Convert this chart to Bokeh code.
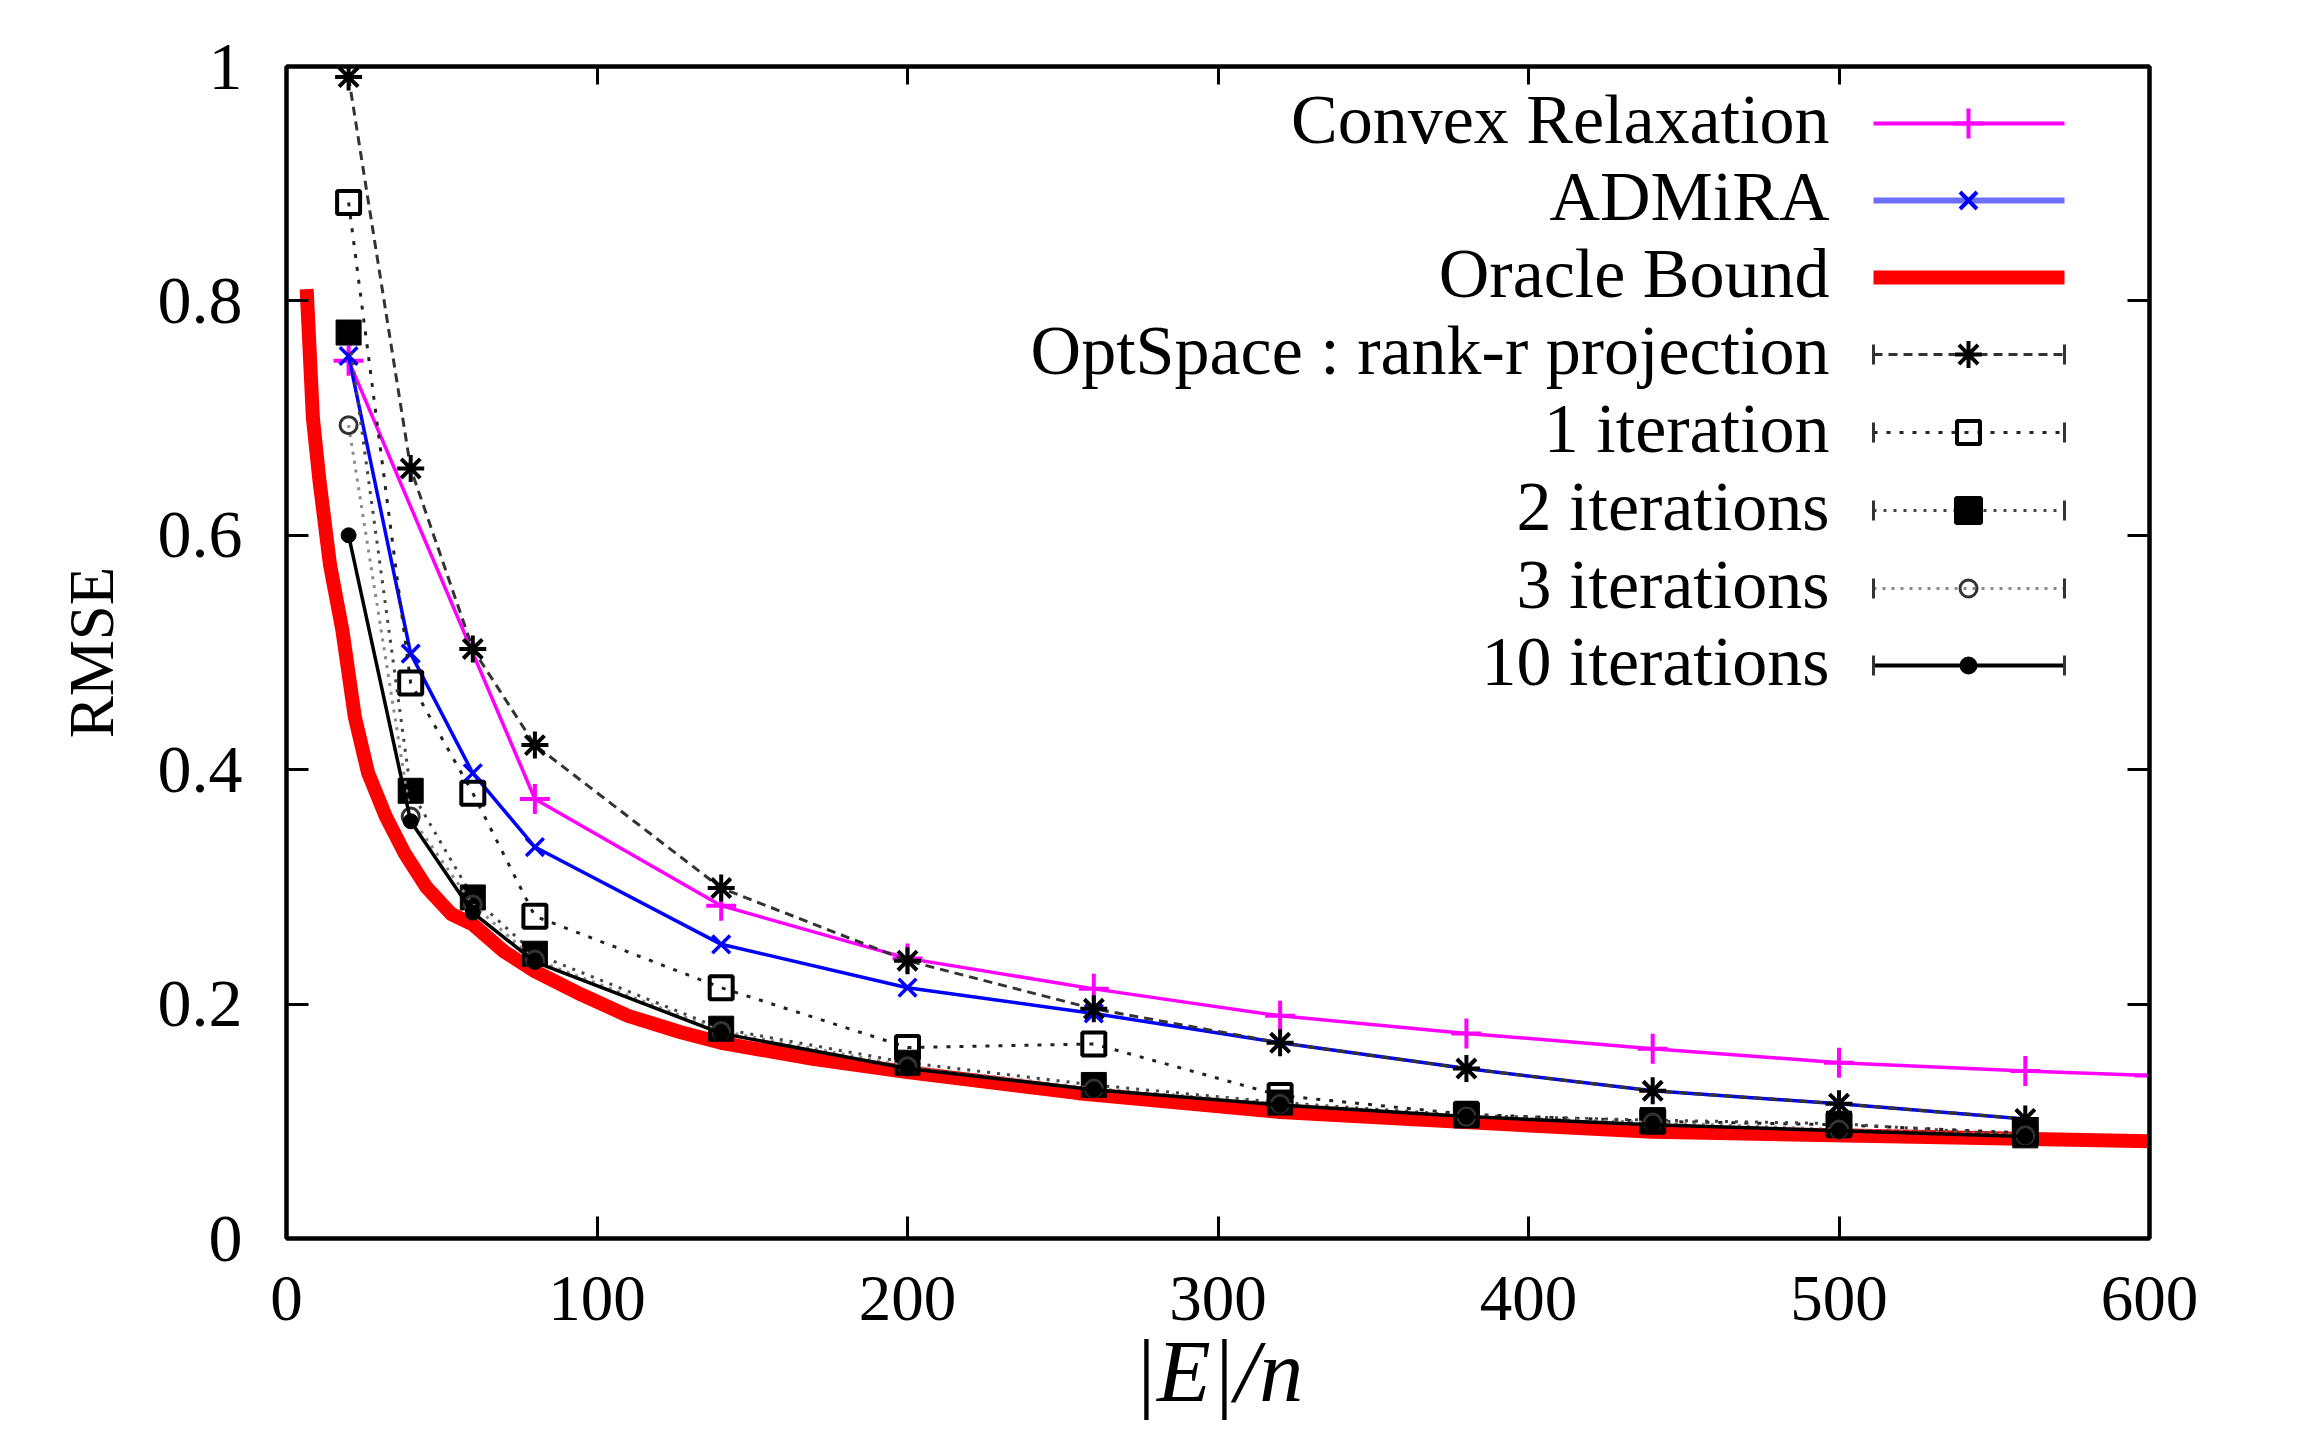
from bokeh.plotting import figure
from bokeh.models import Range1d, LinearAxis, FixedTicker
from bokeh.embed import file_html
from bokeh.resources import INLINE
from bokeh.core.properties import value

# ---------------- data ----------------
x_iter = [20, 40, 60, 80, 140, 200, 260, 320, 380, 440, 500, 560]
convex_x = [20, 80, 140, 200, 260, 320, 380, 440, 500, 560, 600]
convex_y = [0.749, 0.375, 0.284, 0.239, 0.213, 0.190, 0.175, 0.162, 0.150, 0.143, 0.139]
admira_y = [0.753, 0.499, 0.397, 0.334, 0.251, 0.214, 0.192, 0.167, 0.145, 0.126, 0.115, 0.102]
rank_r_y = [0.991, 0.657, 0.503, 0.421, 0.299, 0.237, 0.196, 0.167, 0.145, 0.126, 0.115, 0.102]
iter1_y = [0.884, 0.474, 0.380, 0.275, 0.214, 0.163, 0.166, 0.122, 0.106, 0.100, 0.097, 0.090]
iter2_y = [0.773, 0.382, 0.291, 0.243, 0.179, 0.150, 0.131, 0.116, 0.105, 0.101, 0.098, 0.088]
iter3_y = [0.694, 0.360, 0.285, 0.238, 0.177, 0.147, 0.128, 0.115, 0.104, 0.099, 0.093, 0.088]
iter10_y = [0.600, 0.356, 0.278, 0.236, 0.175, 0.145, 0.127, 0.114, 0.104, 0.097, 0.092, 0.087]
oracle_x = [6.5, 8.5, 10.6, 14, 18, 22, 26.3, 32, 38, 45, 53, 60, 70, 80, 95, 110, 127, 140,
            170, 200, 255, 320, 375, 440, 520, 600]
oracle_y = [0.81, 0.70, 0.647, 0.575, 0.519, 0.445, 0.397, 0.36, 0.329, 0.30, 0.277, 0.268,
            0.245, 0.228, 0.208, 0.19, 0.176, 0.167, 0.153, 0.142, 0.124, 0.108, 0.100,
            0.091, 0.087, 0.083]

x_ticks = [0, 100, 200, 300, 400, 500, 600]
y_ticks = [0, 0.2, 0.4, 0.6, 0.8, 1.0]
y_tick_labels = ["0", "0.2", "0.4", "0.6", "0.8", "1"]

legend_labels = ["Convex Relaxation", "ADMiRA", "Oracle Bound",
                 "OptSpace : rank-r projection", "1 iteration", "2 iterations",
                 "3 iterations", "10 iterations"]
x_label = "|E|/n"
y_label = "RMSE"

# ---------------- layout constants (page pixels) ----------------
W, H = 2295, 1449
FL, FR, FT, FB = 286, 2149, 66, 1238  # frame edges on the page
XMAX, YMAX = 600.0, 1.0


def dx(px):
    return (px - FL) / (FR - FL) * XMAX


def dy(py):
    return (FB - py) / (FB - FT) * YMAX


SERIF = value("Liberation Serif")

p = figure(width=W, height=H, x_range=Range1d(0, XMAX), y_range=Range1d(0, YMAX),
           output_backend="svg", toolbar_location=None,
           min_border_left=FL, min_border_right=W - FR,
           min_border_top=FT, min_border_bottom=H - FB)
p.grid.visible = False
p.outline_line_color = "black"
p.outline_line_width = 4
p.background_fill_color = "white"
p.border_fill_color = "white"

for ax in (p.xaxis[0], p.yaxis[0]):
    ax.major_tick_in = 22
    ax.major_tick_out = 0
    ax.major_tick_line_width = 3
    ax.minor_tick_line_color = None
    ax.axis_line_width = 4
    ax.major_label_text_font = "Liberation Serif"
    ax.axis_label_text_font = "Liberation Serif"
    ax.major_label_text_color = "black"
    ax.axis_label_text_color = "black"

p.xaxis.ticker = FixedTicker(ticks=x_ticks)
p.yaxis.ticker = FixedTicker(ticks=y_ticks)
p.yaxis.major_label_overrides = {t: l for t, l in zip(y_ticks, y_tick_labels)}
p.xaxis.major_label_text_font_size = "65px"
p.yaxis.major_label_text_font_size = "68px"
p.xaxis.major_label_standoff = 38
p.yaxis.major_label_standoff = 44
p.xaxis.axis_label = x_label
p.xaxis.axis_label_text_font_size = "88px"
p.xaxis.axis_label_text_font_style = "italic"
p.xaxis.axis_label_standoff = 0
p.yaxis.axis_label = y_label
p.yaxis.axis_label_text_font_size = "63px"
p.yaxis.axis_label_text_font_style = "normal"
p.yaxis.axis_label_standoff = 28

# mirrored ticks on top and right (no labels)
top = LinearAxis(ticker=FixedTicker(ticks=x_ticks), major_label_text_color=None,
                 major_label_text_font_size="10px", major_label_standoff=0,
                 major_tick_in=18, major_tick_out=0, major_tick_line_width=3,
                 minor_tick_line_color=None, axis_line_width=4)
p.add_layout(top, "above")
right = LinearAxis(ticker=FixedTicker(ticks=y_ticks), major_label_text_color=None,
                   major_label_text_font_size="10px", major_label_standoff=0,
                   major_tick_in=22, major_tick_out=0, major_tick_line_width=3,
                   minor_tick_line_color=None, axis_line_width=4)
p.add_layout(right, "right")

# ---------------- series ----------------
MAG, BLUE, RED = "#ff00ff", "#0000ff", "#ff0000"

p.line(convex_x, convex_y, line_color=MAG, line_width=3.5)
p.scatter(convex_x, convex_y, marker="cross", size=30, line_color=MAG, line_width=4)

p.line(x_iter, admira_y, line_color=BLUE, line_width=3.5)
p.scatter(x_iter, admira_y, marker="x", size=25, line_color=BLUE, line_width=3.5)

p.line(oracle_x, oracle_y, line_color=RED, line_width=14, line_join="round")

p.line(x_iter, rank_r_y, line_color="#333333", line_width=3, line_dash="9 6")
p.scatter(x_iter, rank_r_y, marker="asterisk", size=27, line_color="black", line_width=4)

p.line(x_iter, iter1_y, line_color="#222222", line_width=3, line_dash="4 9")
p.scatter(x_iter, iter1_y, marker="square", size=23, line_color="black", line_width=4,
          fill_color=None)

p.line(x_iter, iter2_y, line_color="#444444", line_width=3, line_dash="3 7")
p.scatter(x_iter, iter2_y, marker="square", size=25, line_color="black", fill_color="black")

p.line(x_iter, iter3_y, line_color="#8a8a8a", line_width=3, line_dash="3 6")
p.scatter(x_iter, iter3_y, marker="circle", size=17, line_color="#333333", line_width=3,
          fill_color=None)

p.line(x_iter, iter10_y, line_color="black", line_width=3.5)
p.scatter(x_iter, iter10_y, marker="circle", size=15, line_color="black", fill_color="black")

# ---------------- legend (gnuplot style: text, then sample on the right) ----------------
rows_px = [123, 200, 277, 354, 432, 510, 588, 665]
TEXT_R, L0, L1, LM = 1829, 1873, 2064, 1968
ry = [dy(r) for r in rows_px]
p.text(x=[dx(TEXT_R)] * len(rows_px), y=[dy(r - 4) for r in rows_px], text=legend_labels,
       text_align="right", text_baseline="middle", text_font=SERIF,
       text_font_size="70px", text_color="black")

styles = [
    dict(color=MAG, w=4, dash="solid", marker="cross", size=30, fill=None, bars=False),
    dict(color="#6f6fff", w=6, dash="solid", marker="x", size=24, fill=None, bars=False),
    dict(color=RED, w=14, dash="solid", marker=None, size=0, fill=None, bars=False),
    dict(color="#333333", w=3, dash="9 6", marker="asterisk", size=27, fill=None, bars=True),
    dict(color="#222222", w=3, dash="4 9", marker="square", size=23, fill=None, bars=True),
    dict(color="#444444", w=3, dash="3 7", marker="square", size=25, fill="black", bars=True),
    dict(color="#8a8a8a", w=3, dash="3 6", marker="circle", size=17, fill=None, bars=True),
    dict(color="black", w=4, dash="solid", marker="circle", size=15, fill="black", bars=True),
]
mk_line = {"cross": MAG, "x": BLUE, "asterisk": "black", "square": "black", "circle": "black"}
for i, (yy, st) in enumerate(zip(ry, styles)):
    p.line([dx(L0), dx(L1)], [yy, yy], line_color=st["color"], line_width=st["w"],
           line_dash=st["dash"])
    if st["bars"]:
        h = 10 / (FB - FT) * YMAX
        p.segment(x0=[dx(L0), dx(L1)], y0=[yy - h, yy - h], x1=[dx(L0), dx(L1)],
                  y1=[yy + h, yy + h], line_color="#333333", line_width=3)
    if st["marker"]:
        lc = mk_line[st["marker"]]
        if i == 6:
            lc = "#333333"
        p.scatter([dx(LM)], [yy], marker=st["marker"], size=st["size"], line_color=lc,
                  line_width=4 if st["marker"] != "circle" else 3, fill_color=st["fill"])

open("out.html", "w").write(file_html(p, INLINE))
